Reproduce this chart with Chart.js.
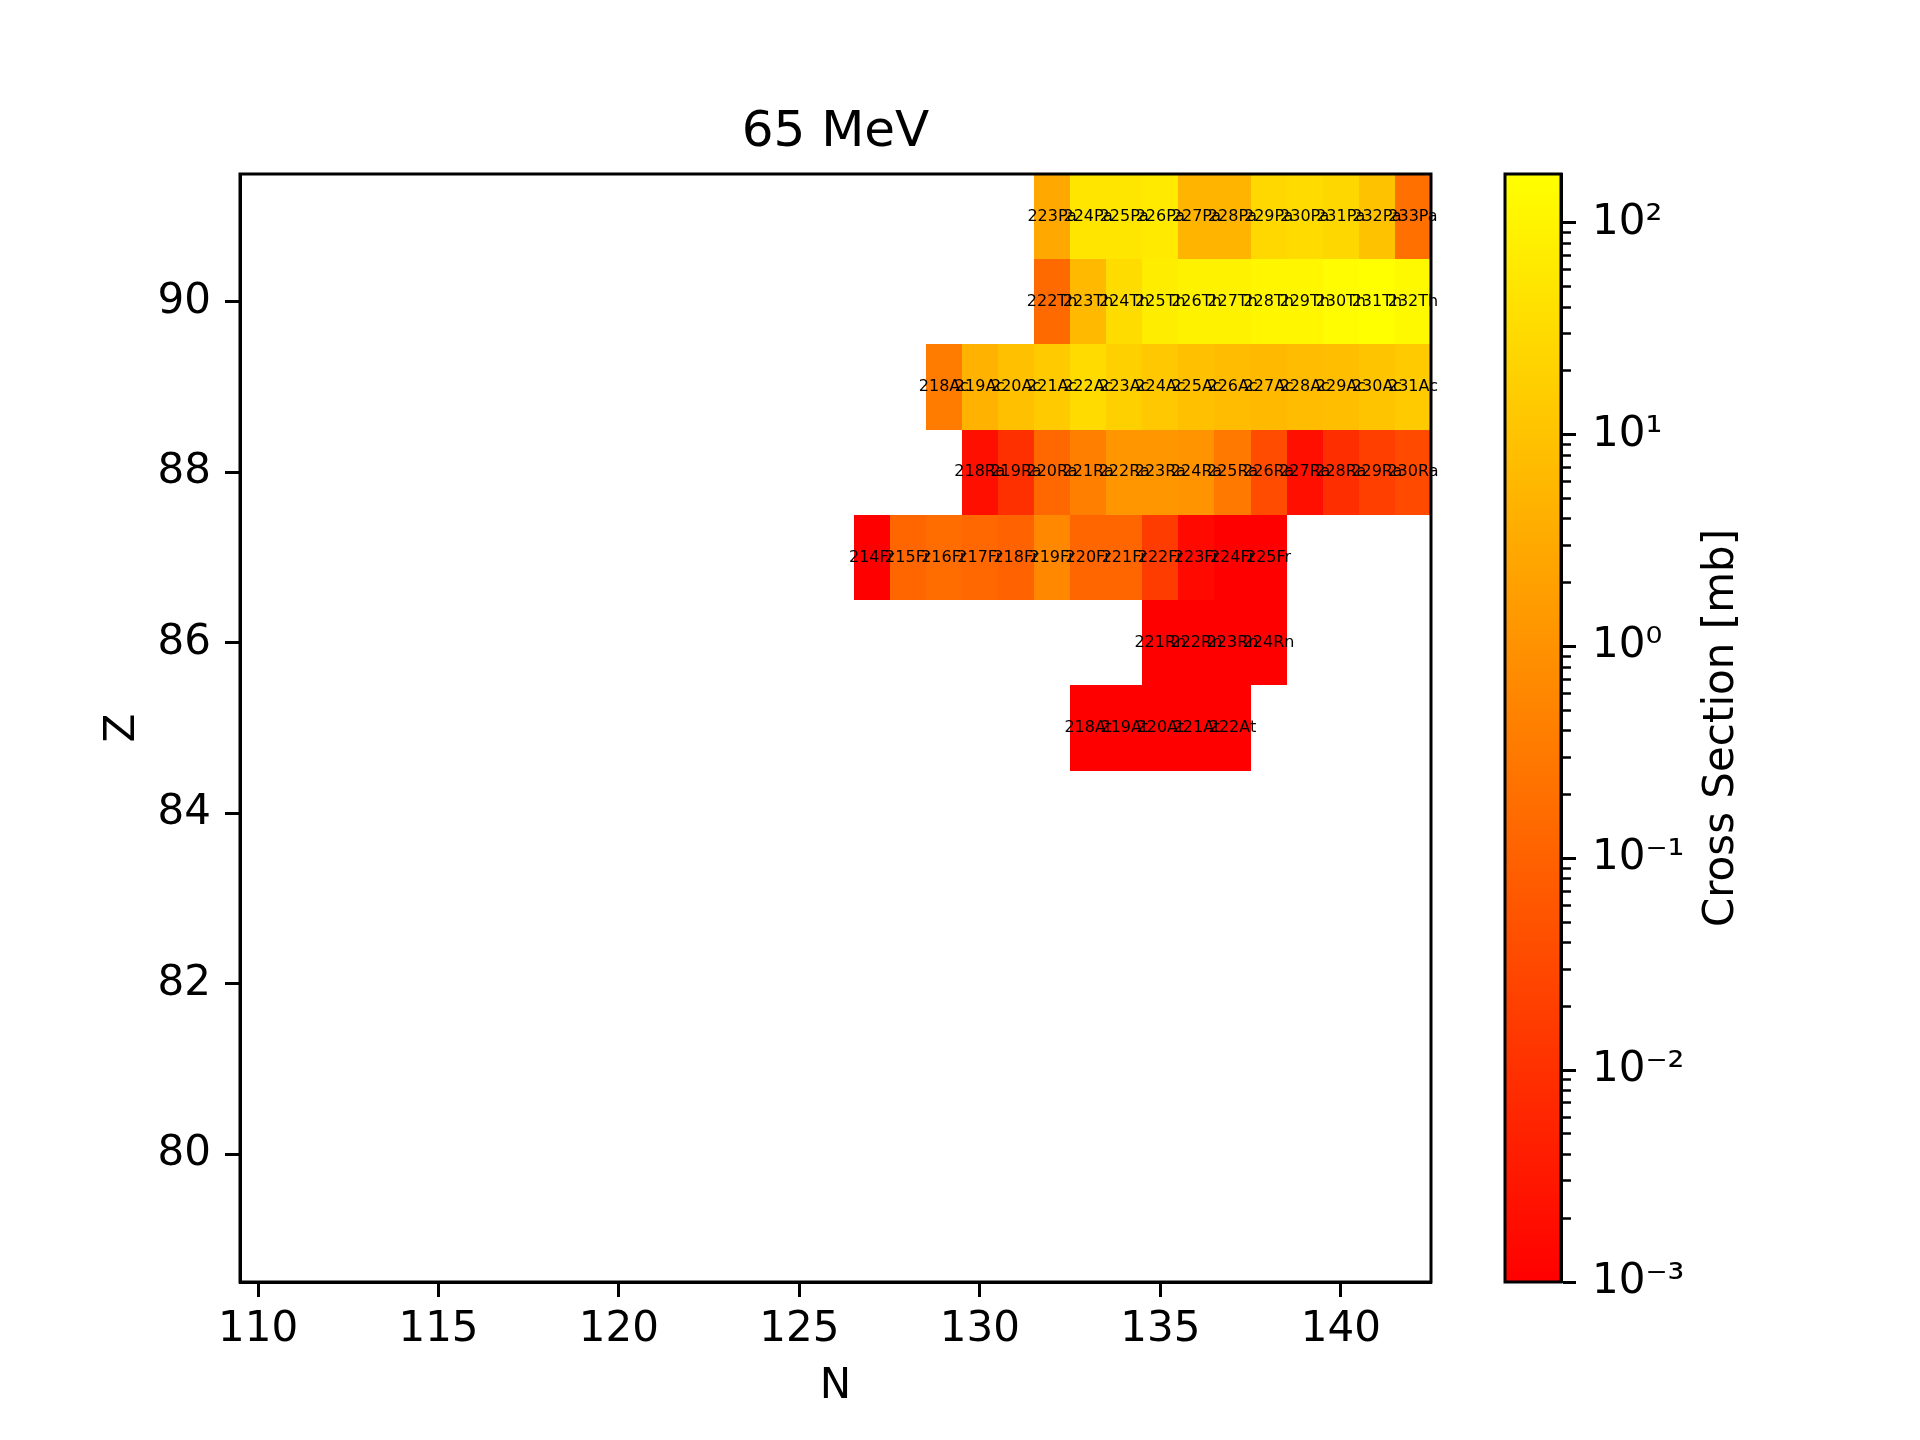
<!DOCTYPE html>
<html><head><meta charset="utf-8">
<script src="https://cdn.jsdelivr.net/npm/chart.js@4.4.1/dist/chart.umd.min.js"></script>
<style>
html,body{margin:0;padding:0;background:#fff;}
#wrap{position:relative;width:1920px;height:1440px;background:#fff;}
#main{position:absolute;left:0;top:0;width:1920px;height:1440px;}
#cbar{position:absolute;left:1480px;top:0;width:440px;height:1440px;}
</style></head><body>
<div id="wrap"><canvas id="main" width="1920" height="1440"></canvas><canvas id="cbar" width="440" height="1440"></canvas></div>
<script>
// ---- data ----
const chartTitle = '65 MeV';
const xTitle = 'N';
const yTitle = 'Z';
const cbarTitle = 'Cross Section [mb]';
const elements = ['At', 'Rn', 'Fr', 'Ra', 'Ac', 'Th', 'Pa'];
const protonNumbers = [85, 86, 87, 88, 89, 90, 91];
const firstMass = [218, 221, 214, 218, 218, 222, 223];
const xsAt = [0.001, 0.001, 0.001, 0.001, 0.001];
const xsRn = [0.001, 0.001, 0.001, 0.001];
const xsFr = [0.001, 0.124, 0.163, 0.136, 0.103, 0.61, 0.124, 0.124, 0.017, 0.0016, 0.001, 0.001];
const xsRa = [0.0021, 0.0096, 0.136, 0.42, 1.2, 1.2, 1.09, 0.29, 0.036, 0.0021, 0.0088, 0.02, 0.033];
const xsAc = [0.35, 4.5, 8.7, 14.6, 30, 18.5, 12.6, 8.7, 7.2, 6.5, 7.2, 7.9, 10.5, 14.6];
const xsTh = [0.15, 6.5, 32, 70, 92, 92, 110, 110, 135, 170, 123];
const xsPa = [2.8, 48, 52, 63, 4.9, 4.9, 27, 30, 25, 9.5, 0.2];
const crossSections = [xsAt, xsRn, xsFr, xsRa, xsAc, xsTh, xsPa];
const xTicks = [110, 115, 120, 125, 130, 135, 140];
const yTicks = [80, 82, 84, 86, 88, 90];
const cbarDecades = [-3, -2, -1, 0, 1, 2];
const vMin = 0.001;

// ---- build cells ----
const cells = [];
elements.forEach((el, r) => {
  const Zv = protonNumbers[r];
  crossSections[r].forEach((v, i) => {
    const A = firstMass[r] + i;
    cells.push({x: A - Zv, y: Zv, v: v, label: A + el});
  });
});
const vMax = Math.max(...cells.map(c => c.v));

function autumn(v) {
  let t = (Math.log10(v) - Math.log10(vMin)) / (Math.log10(vMax) - Math.log10(vMin));
  t = Math.min(1, Math.max(0, t));
  const g = Math.min(255, Math.floor(t * 256));
  return 'rgb(255,' + g + ',0)';
}

const FONT = 'DejaVu Sans';
Chart.defaults.font.family = FONT;
Chart.defaults.color = '#000';

const framePlugin = {
  id: 'frame',
  afterDatasetsDraw(chart) {
    const {ctx, chartArea: a} = chart;
    ctx.save();
    ctx.strokeStyle = '#000';
    ctx.lineWidth = 3;
    ctx.strokeRect(a.left, a.top, a.right - a.left, a.bottom - a.top);
    ctx.restore();
  }
};

const heatPlugin = {
  id: 'heat',
  beforeDatasetsDraw(chart) {
    const {ctx} = chart;
    const xs = chart.scales.x, ys = chart.scales.y;
    const pts = chart.data.datasets[0].data;
    ctx.save();
    pts.forEach(p => {
      const x0 = Math.round(xs.getPixelForValue(p.x - 0.5));
      const x1 = Math.round(xs.getPixelForValue(p.x + 0.5));
      const y0 = Math.round(ys.getPixelForValue(p.y + 0.5));
      const y1 = Math.round(ys.getPixelForValue(p.y - 0.5));
      ctx.fillStyle = autumn(p.v);
      ctx.fillRect(x0, y0, x1 - x0, y1 - y0);
    });
    ctx.fillStyle = '#000';
    ctx.font = '16px "' + FONT + '"';
    ctx.textAlign = 'center';
    ctx.textBaseline = 'middle';
    pts.forEach(p => {
      ctx.fillText(p.label, xs.getPixelForValue(p.x), ys.getPixelForValue(p.y));
    });
    ctx.restore();
  }
};

const tickFont = {family: FONT, size: 42};

new Chart(document.getElementById('main'), {
  type: 'scatter',
  data: {datasets: [{data: cells, pointRadius: 0, pointHoverRadius: 0}]},
  options: {
    responsive: false, animation: false, devicePixelRatio: 1,
    events: [],
    layout: {padding: {left: 0, top: 0, right: 489, bottom: 0}},
    plugins: {
      legend: {display: false},
      tooltip: {enabled: false},
      title: {display: true, text: chartTitle, color: '#000', fullSize: false,
        font: {family: FONT, size: 50, weight: 'normal', lineHeight: 1.2},
        padding: {top: 103, bottom: 11}}
    },
    scales: {
      x: {
        type: 'linear', min: 109.5, max: 142.5,
        afterBuildTicks: s => { s.ticks = xTicks.map(v => ({value: v})); },
        afterFit: s => { s.height = 158; },
        ticks: {font: tickFont, color: '#000', padding: 8, autoSkip: false, maxRotation: 0, callback: v => String(v)},
        grid: {display: true, drawOnChartArea: false, drawTicks: true, tickLength: 15, tickWidth: 3, tickColor: '#000'},
        border: {display: true, color: '#000', width: 3},
        title: {display: true, text: xTitle, color: '#000', font: {family: FONT, size: 42, lineHeight: 1.2}, padding: {top: 0, bottom: 28}}
      },
      y: {
        type: 'linear', min: 78.5, max: 91.5,
        afterBuildTicks: s => { s.ticks = yTicks.map(v => ({value: v})); },
        afterFit: s => { s.width = 240; },
        ticks: {font: tickFont, color: '#000', padding: 14, autoSkip: false, callback: v => String(v)},
        grid: {display: true, drawOnChartArea: false, drawTicks: true, tickLength: 15, tickWidth: 3, tickColor: '#000'},
        border: {display: true, color: '#000', width: 3},
        title: {display: true, text: yTitle, color: '#000', font: {family: FONT, size: 42, lineHeight: 1.2}, padding: {top: 98, bottom: 0}}
      }
    }
  },
  plugins: [heatPlugin, framePlugin]
});

// ---- colorbar ----
const supMap = {'-': '\u207B', '0': '\u2070', '1': '\u00B9', '2': '\u00B2', '3': '\u00B3'};
function decadeLabel(e) {
  return '10' + String(e).split('').map(c => supMap[c]).join('');
}
const cbarTicks = [];
cbarDecades.forEach(e => {
  for (let m = 1; m <= 9; m++) {
    const val = m * Math.pow(10, e);
    if (val <= vMax * 1.0001) cbarTicks.push({value: val, major: m === 1, exp: e});
  }
});

const gradientPlugin = {
  id: 'grad',
  beforeDatasetsDraw(chart) {
    const {ctx, chartArea: a} = chart;
    const g = ctx.createLinearGradient(0, a.bottom, 0, a.top);
    g.addColorStop(0, 'rgb(255,0,0)');
    g.addColorStop(1, 'rgb(255,255,0)');
    ctx.save();
    ctx.fillStyle = g;
    ctx.fillRect(a.left, a.top, a.right - a.left, a.bottom - a.top);
    ctx.restore();
  },
  afterDraw(chart) {
    const {ctx, chartArea: a} = chart;
    ctx.save();
    ctx.translate(242, (a.top + a.bottom) / 2);
    ctx.rotate(-Math.PI / 2);
    ctx.font = '42px "' + FONT + '"';
    ctx.fillStyle = '#000';
    ctx.textAlign = 'center';
    ctx.textBaseline = 'middle';
    ctx.fillText(cbarTitle, 0, 0);
    ctx.restore();
  }
};

new Chart(document.getElementById('cbar'), {
  type: 'scatter',
  data: {datasets: [{data: [], pointRadius: 0}]},
  options: {
    responsive: false, animation: false, devicePixelRatio: 1,
    events: [],
    layout: {padding: {left: 25, top: 174, right: 0, bottom: 158}},
    plugins: {legend: {display: false}, tooltip: {enabled: false}, title: {display: false}},
    scales: {
      x: {display: false, min: 0, max: 1},
      y: {
        type: 'logarithmic', position: 'right', min: vMin, max: vMax,
        afterBuildTicks: s => { s.ticks = cbarTicks.map(t => ({value: t.value, major: t.major})); },
        afterFit: s => { s.width = 359; },
        ticks: {font: tickFont, color: '#000', padding: 16, autoSkip: false,
          callback: (v, i) => cbarTicks[i].major ? decadeLabel(cbarTicks[i].exp) : ''},
        grid: {display: true, drawOnChartArea: false, drawTicks: true, tickLength: 15,
          tickColor: '#000',
          tickWidth: c => (cbarTicks[c.index] && cbarTicks[c.index].major) ? 3 : 2.5,
          tickBorderDash: c => (cbarTicks[c.index] && cbarTicks[c.index].major) ? [] : [8, 200]},
        border: {display: true, color: '#000', width: 3}
      }
    }
  },
  plugins: [gradientPlugin, framePlugin]
});
</script>
</body></html>
